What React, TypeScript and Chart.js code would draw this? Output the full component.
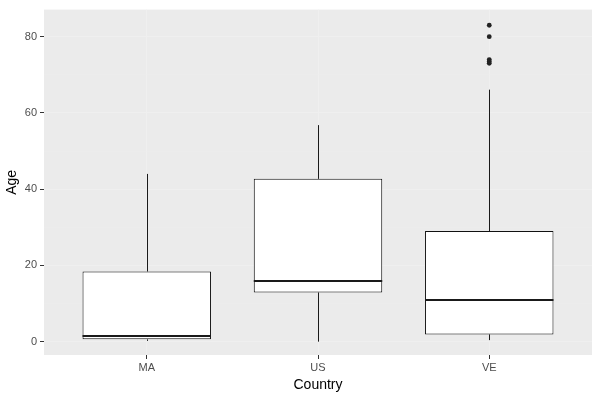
import React, { useEffect, useRef } from "react";
import { Chart, registerables } from "chart.js";

Chart.register(...registerables);

const categories = ["MA", "US", "VE"];
const whiskerLow = [0.2, 0, 0.4];
const q1 = [0.6, 12.9, 1.9];
const median = [1.5, 15.9, 11];
const q3 = [18.4, 42.7, 29];
const whiskerHigh = [44, 56.8, 66.1];
const outlierCategory = ["VE", "VE", "VE", "VE", "VE"];
const outlierAge = [83, 80, 74, 73.5, 73];
const yMajorTicks = [0, 20, 40, 60, 80];
const yMinorTicks = [10, 30, 50, 70];

const FONT = "'Liberation Sans', Arial, Helvetica, sans-serif";

const boxPlugin = {
  id: "boxParts",
  beforeDraw(chart: any) {
    const { ctx, chartArea: a } = chart;
    ctx.save();
    ctx.fillStyle = "#EBEBEB";
    ctx.fillRect(a.left, a.top, a.right - a.left, a.bottom - a.top);
    ctx.restore();
  },
  beforeDatasetsDraw(chart: any) {
    const { ctx } = chart;
    const xs = chart.scales.x;
    const ys = chart.scales.y;
    ctx.save();
    ctx.strokeStyle = "#1A1A1A";
    ctx.lineWidth = 1;
    categories.forEach((_, i) => {
      const x = Math.round(xs.getPixelForValue(i + 1)) + 0.5;
      ctx.beginPath();
      ctx.moveTo(x, ys.getPixelForValue(q3[i]));
      ctx.lineTo(x, ys.getPixelForValue(whiskerHigh[i]));
      ctx.moveTo(x, ys.getPixelForValue(q1[i]));
      ctx.lineTo(x, ys.getPixelForValue(whiskerLow[i]));
      ctx.stroke();
    });
    ctx.restore();
  },
  afterDatasetsDraw(chart: any) {
    const { ctx } = chart;
    const ys = chart.scales.y;
    const meta = chart.getDatasetMeta(0);
    ctx.save();
    ctx.strokeStyle = "#1A1A1A";
    ctx.lineWidth = 2;
    categories.forEach((_, i) => {
      const el = meta.data[i];
      const w = el.width;
      const y = Math.round(ys.getPixelForValue(median[i]));
      ctx.beginPath();
      ctx.moveTo(el.x - w / 2, y);
      ctx.lineTo(el.x + w / 2, y);
      ctx.stroke();
    });
    ctx.restore();
  },
};

export default function App() {
  const ref = useRef<HTMLCanvasElement>(null);

  useEffect(() => {
    if (!ref.current) return;
    const chart = new Chart(ref.current, {
      type: "bar",
      data: {
        datasets: [
          {
            type: "bar",
            data: categories.map((_, i) => ({ x: i + 1, y: [q1[i], q3[i]] })) as any,
            backgroundColor: "#FFFFFF",
            borderColor: "#111111",
            borderWidth: 1,
            borderSkipped: false,
            barPercentage: 0.75,
            categoryPercentage: 1,
          },
          {
            type: "scatter",
            data: outlierAge.map((v, i) => ({
              x: categories.indexOf(outlierCategory[i]) + 1,
              y: v,
            })),
            pointRadius: 2.4,
            pointBackgroundColor: "#222222",
            pointBorderWidth: 0,
          } as any,
        ],
      },
      options: {
        responsive: false,
        animation: false,
        devicePixelRatio: 1,
        layout: { padding: { top: 8, right: 8, left: 0, bottom: 0 } },
        plugins: { legend: { display: false }, tooltip: { enabled: false } },
        scales: {
          x: {
            type: "linear",
            min: 0.4,
            max: 3.6,
            offset: false,
            afterBuildTicks: (s: any) => {
              s.ticks = categories.map((_, i) => ({ value: i + 1 }));
            },
            afterFit: (s: any) => {
              s.height = 45;
            },
            ticks: {
              autoSkip: false,
              maxRotation: 0,
              padding: 2,
              color: "#4D4D4D",
              font: { family: FONT, size: 11 },
              callback: (v: any) => categories[Math.round(v) - 1] ?? "",
            },
            grid: {
              offset: false,
              color: "#EFEFEF",
              lineWidth: 1,
              tickLength: 4,
              tickColor: "#333333",
            },
            border: { display: false },
            title: {
              display: true,
              text: "Country",
              color: "#000000",
              font: { family: FONT, size: 14 },
              padding: { top: 0, bottom: 6.5 },
            },
          },
          y: {
            type: "linear",
            min: -3.5,
            max: 87.1,
            afterBuildTicks: (s: any) => {
              s.ticks = [...yMinorTicks, ...yMajorTicks]
                .sort((a, b) => a - b)
                .map((v) => ({ value: v }));
            },
            afterFit: (s: any) => {
              s.width = 44;
            },
            ticks: {
              autoSkip: false,
              padding: 3,
              color: "#4D4D4D",
              font: { family: FONT, size: 11 },
              callback: (v: any) => (yMajorTicks.includes(v) ? String(v) : ""),
            },
            grid: {
              offset: false,
              color: (c: any) =>
                yMajorTicks.includes(c.tick?.value) ? "#EFEFEF" : "#EDEDED",
              lineWidth: (c: any) => (yMajorTicks.includes(c.tick?.value) ? 1 : 0.6),
              tickLength: 4,
              tickColor: (c: any) =>
                yMajorTicks.includes(c.tick?.value) ? "#333333" : "rgba(0,0,0,0)",
            },
            border: { display: false },
            title: {
              display: true,
              text: "Age",
              color: "#000000",
              font: { family: FONT, size: 14 },
              padding: { top: 3.5, bottom: 0 },
            },
          },
        },
      },
      plugins: [boxPlugin],
    });
    return () => chart.destroy();
  }, []);

  return (
    <div
      style={{
        position: "fixed",
        left: 0,
        top: 0,
        width: 600,
        height: 400,
        background: "#FFFFFF",
      }}
    >
      <canvas ref={ref} width={600} height={400} style={{ width: 600, height: 400 }} />
    </div>
  );
}
